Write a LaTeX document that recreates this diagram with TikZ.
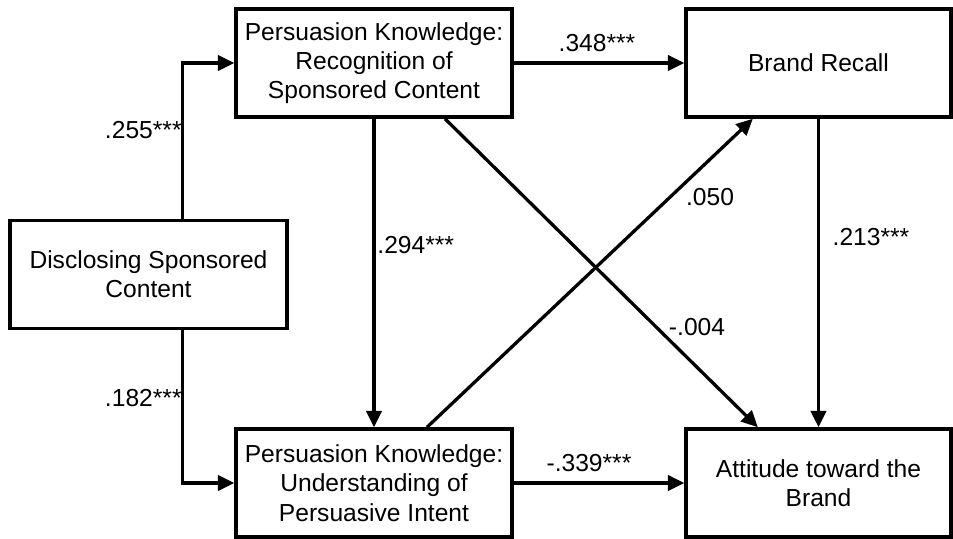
\documentclass[tikz,border=0pt]{standalone}
\usepackage{fontspec}
\setmainfont{Liberation Sans}
\usetikzlibrary{arrows.meta}

\tikzset{
  varbox/.style={draw, rectangle, line width=3pt, align=center,
    minimum height=3.24cm, inner sep=0pt,
    font=\fontsize{21}{25}\selectfont},
  path/.style={line width=2.8pt, -{Triangle[length=14pt,width=13pt]}},
  coef/.style={inner sep=1pt, font=\fontsize{21}{25}\selectfont}
}

\begin{document}
\begin{tikzpicture}[x=0.03cm,y=-0.03cm]
\useasboundingbox (0,0) rectangle (953,539);

\node[varbox, minimum width=8.31cm] (disc) at (148.5,274.5) {Disclosing Sponsored\\Content};
\node[varbox, minimum width=8.28cm] (pkr) at (374,63) {Persuasion Knowledge:\\Recognition of\\Sponsored Content};
\node[varbox, minimum width=8.28cm] (pku) at (374,483) {Persuasion Knowledge:\\Understanding of\\Persuasive Intent};
\node[varbox, minimum width=7.95cm] (recall) at (818.5,63) {Brand Recall};
\node[varbox, minimum width=7.95cm] (att) at (818.5,483) {Attitude toward the\\Brand};

\draw[path] ([xshift=1.03cm]disc.north) |- (pkr);
\draw[path] ([xshift=1.03cm]disc.south) |- (pku);
\draw[path] (pkr) -- (recall);
\draw[path] (pkr) -- (pku);
\draw[path] (recall) -- (att);
\draw[path] (pku) -- (att);
\draw[path] ([xshift=2.13cm]pkr.south) -- ([xshift=-1.82cm]att.north);
\draw[path] ([xshift=1.59cm]pku.north) -- ([xshift=-1.97cm]recall.south);

% path coefficients
\node[coef, anchor=east] (c255) at (183,130) {.255***};
\node[coef, anchor=east] (c182) at (183,398) {.182***};
\node[coef, anchor=west] (c294) at (376,245) {.294***};
\node[coef] (c348) at (597,43) {.348***};
\node[coef] (c050) at (710,197) {.050};
\node[coef] (c213) at (871,237) {.213***};
\node[coef] (c004) at (697,327) {-.004};
\node[coef] (c339) at (589,463) {-.339***};
\end{tikzpicture}
\end{document}
